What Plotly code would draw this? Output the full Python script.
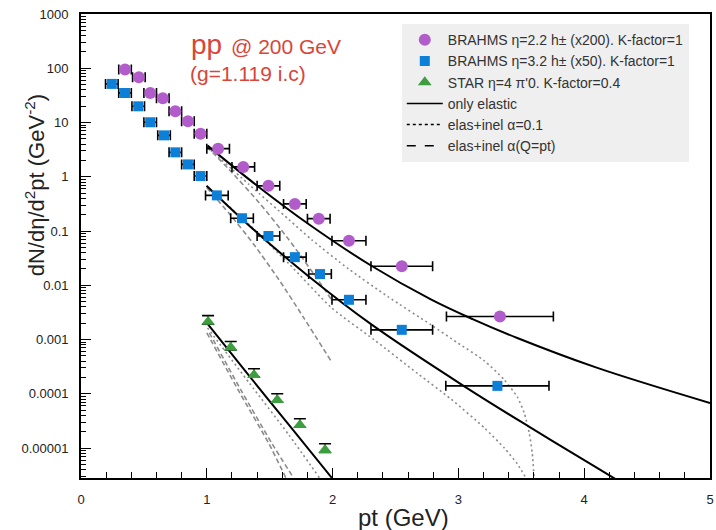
import plotly.graph_objects as go

# ---------------- data ----------------
# BRAHMS eta=2.2 h+- (x200)
c_x = [0.35, 0.46, 0.55, 0.65, 0.75, 0.85, 0.95, 1.09, 1.29, 1.49, 1.70, 1.89, 2.13, 2.55, 3.33]
c_y = [94.6, 68, 35, 28, 16.1, 10.5, 6.2, 3.3, 1.52, 0.68, 0.316, 0.169, 0.066, 0.0224, 0.00266]
c_ex = [0.05, 0.05, 0.05, 0.05, 0.05, 0.05, 0.05, 0.09, 0.09, 0.09, 0.09, 0.09, 0.135, 0.245, 0.425]

# BRAHMS eta=3.2 h+- (x50)
s_x = [0.245, 0.35, 0.455, 0.55, 0.66, 0.75, 0.85, 0.95, 1.08, 1.28, 1.49, 1.70, 1.90, 2.13, 2.55, 3.31]
s_y = [51.5, 35, 19.9, 10.1, 5.8, 2.82, 1.69, 1.03, 0.454, 0.172, 0.081, 0.033, 0.0161, 0.0054, 0.00151, 0.00014]
s_ex = [0.05, 0.05, 0.05, 0.05, 0.05, 0.05, 0.05, 0.05, 0.09, 0.09, 0.09, 0.09, 0.09, 0.135, 0.245, 0.41]

# STAR eta=4 pi0
t_x = [1.01, 1.19, 1.375, 1.56, 1.74, 1.94]
t_y = [0.00212, 0.000711, 0.000223, 7.7e-5, 2.67e-5, 9.2e-6]
t_eup = [0.00064, 0.00021, 0.000067, 2.3e-5, 8.0e-6, 2.8e-6]
t_edn = [0.0002, 0.00007, 0.00002, 7e-6, 2.5e-6, 9e-7]

# model curves: circle group
c_sol_x = [1.006, 1.40, 1.811, 2.308, 2.781, 3.113, 3.468, 4.099, 5.0]
c_sol_y = [3.75, 0.685, 0.1334, 0.0229, 0.0055, 0.00238, 0.001066, 0.000303, 6.76e-5]
c_dot_x = [1.0, 1.337, 1.653, 1.834, 2.126, 2.442, 2.781, 2.994, 3.207, 3.365, 3.468, 3.523, 3.563, 3.587, 3.602]
c_dot_y = [3.59, 0.715, 0.162, 0.069, 0.0201, 0.00613, 0.00187, 0.000869, 0.000404, 0.00018, 8.77e-5, 4.44e-5, 1.9e-5, 8.1e-6, 2.8e-6]
c_das_x = [1.0, 1.179, 1.416, 1.653, 1.866, 1.992]
c_das_y = [3.59, 1.35, 0.333, 0.069, 0.01435, 0.0054]

# model curves: square group
s_sol_x = [0.998, 1.40, 1.811, 2.308, 3.05, 3.571, 4.099, 4.257]
s_sol_y = [0.685, 0.0931, 0.01453, 0.0019, 0.000136, 2.4e-5, 4.35e-6, 2.61e-6]
s_dot_x = [1.0, 1.337, 1.653, 1.992, 2.331, 2.679, 2.939, 3.207, 3.365, 3.468, 3.547]
s_dot_y = [0.656, 0.131, 0.0249, 0.00384, 0.000987, 0.000233, 8.05e-5, 2.35e-5, 1.0e-5, 5.1e-6, 2.58e-6]
s_das_x = [1.0, 1.179, 1.376, 1.574, 1.771, 1.992]
s_das_y = [0.629, 0.2085, 0.0558, 0.01262, 0.00251, 0.000387]

# model curves: triangle group
t_sol_x = [1.0, 1.337, 1.653, 1.995]
t_sol_y = [0.00203, 0.000214, 2.67e-5, 2.8e-6]
t_dot_x = [1.006, 1.337, 1.653, 1.897]
t_dot_y = [0.00164, 0.000159, 1.74e-5, 2.8e-6]
t_das_x = [1.0, 1.258, 1.495, 1.629]
t_das_y = [0.00133, 0.000108, 1.19e-5, 2.8e-6]
t_das2_x = [1.02, 1.28, 1.52, 1.69]
t_das2_y = [0.00133, 0.000108, 1.19e-5, 2.8e-6]

y_tickvals = [1e-5, 1e-4, 1e-3, 1e-2, 1e-1, 1, 10, 100, 1000]
y_ticktext = ["0.00001", "0.0001", "0.001", "0.01", "0.1", "1", "10", "100", "1000"]
x_tickvals = [0, 1, 2, 3, 4, 5]

legend_names = [
    "BRAHMS η=2.2 h± (x200). K-factor=1",
    "BRAHMS η=3.2 h± (x50). K-factor=1",
    "STAR η=4 π'0. K-factor=0.4",
    "only elastic",
    "elas+inel α=0.1",
    "elas+inel α(Q=pt)",
]

PURPLE = "#b25ccb"
BLUE = "#0c7fd9"
GREEN = "#3c9e3f"
GRAY = "#8c8c8c"
FONT = "Liberation Sans, Arial, sans-serif"

fig = go.Figure()

def curve(x, y, style, width, smoothing):
    color = "black" if style == "solid" else GRAY
    dash = {"solid": "solid", "dot": "2px,3px", "dash": "5px,3px"}[style]
    fig.add_trace(go.Scatter(x=x, y=y, mode="lines", showlegend=False, hoverinfo="skip",
                             line=dict(color=color, width=width, dash=dash, shape="spline",
                                       smoothing=smoothing)))

for xs, ys in [(c_dot_x, c_dot_y), (s_dot_x, s_dot_y), (t_dot_x, t_dot_y)]:
    curve(xs, ys, "dot", 1.6, 0.6)
for xs, ys in [(c_das_x, c_das_y), (s_das_x, s_das_y), (t_das_x, t_das_y), (t_das2_x, t_das2_y)]:
    curve(xs, ys, "dash", 1.6, 0.6)
for xs, ys in [(c_sol_x, c_sol_y), (s_sol_x, s_sol_y), (t_sol_x, t_sol_y)]:
    curve(xs, ys, "solid", 2, 1.0)

# legend-only line entries
for rank, dash, name in [(4, "solid", legend_names[3]), (5, "dot", legend_names[4]), (6, "dash", legend_names[5])]:
    fig.add_trace(go.Scatter(x=[None], y=[None], mode="lines", name=name, legendrank=rank,
                             line=dict(color="black", width=1.5, dash=dash)))

errx = dict(type="data", thickness=1.6, width=5, color="black")
fig.add_trace(go.Scatter(x=c_x, y=c_y, mode="markers", name=legend_names[0], legendrank=1,
                         marker=dict(symbol="circle", size=12, color=PURPLE),
                         error_x=dict(array=c_ex, **errx)))
fig.add_trace(go.Scatter(x=s_x, y=s_y, mode="markers", name=legend_names[1], legendrank=2,
                         marker=dict(symbol="square", size=10, color=BLUE),
                         error_x=dict(array=s_ex, **errx)))
fig.add_trace(go.Scatter(x=t_x, y=t_y, mode="markers", name=legend_names[2], legendrank=3,
                         marker=dict(symbol="triangle-up", size=12, color=GREEN),
                         error_y=dict(type="data", symmetric=False, array=t_eup, arrayminus=t_edn,
                                      thickness=1.6, width=6, color="black")))

axis_common = dict(showline=True, linecolor="black", linewidth=1.8, mirror=True, showgrid=False,
                   zeroline=False, ticks="inside", tickcolor="black", tickwidth=1.4, ticklen=10,
                   tickfont=dict(family=FONT, size=13, color="#222"))

fig.update_xaxes(range=[0, 5], tickvals=x_tickvals, ticklabelstandoff=8,
                 minor=dict(dtick=0.2, ticks="inside", ticklen=6, tickwidth=1.2, tickcolor="black"),
                 **axis_common)
minor_y = [m * 10 ** e for e in range(-6, 3) for m in range(2, 10)]
fig.update_yaxes(type="log", range=[-5.552, 3], tickvals=y_tickvals, ticktext=y_ticktext,
                 ticklabelstandoff=8,
                 minor=dict(tickvals=minor_y, ticks="inside", ticklen=5, tickwidth=1.2, tickcolor="black"),
                 **axis_common)

fig.update_layout(
    width=716, height=530,
    margin=dict(l=81, r=2, t=14, b=52),
    plot_bgcolor="white", paper_bgcolor="white",
    font=dict(family=FONT, color="#222"),
    legend=dict(x=0.51, y=0.978, xanchor="left", yanchor="top", bgcolor="#efefef",
                borderwidth=0, font=dict(family=FONT, size=14, color="#333"),
                tracegroupgap=0, itemwidth=36),
    annotations=[
        dict(text="dN/dη/d<sup>2</sup>pt (GeV<sup>-2</sup>)", textangle=-90, xref="paper", yref="paper",
             x=-0.073, y=0.631, xanchor="center", yanchor="middle", showarrow=False,
             font=dict(family=FONT, size=22, color="#222")),
        dict(text="pt (GeV)", xref="paper", yref="paper", x=0.513, y=-0.086,
             xanchor="center", yanchor="middle", showarrow=False,
             font=dict(family=FONT, size=24, color="#222")),
        dict(text="pp", xref="paper", yref="paper", x=(190 - 81) / 633, y=(478 - 45) / 464,
             xanchor="left", yanchor="middle", showarrow=False,
             font=dict(family=FONT, size=28, color="#d9453a")),
        dict(text="@ 200 GeV", xref="paper", yref="paper", x=(230 - 81) / 633, y=(478 - 47) / 464,
             xanchor="left", yanchor="middle", showarrow=False,
             font=dict(family=FONT, size=21, color="#d9453a")),
        dict(text="(g=1.119 i.c)", xref="paper", yref="paper", x=(189 - 81) / 633, y=(478 - 73) / 464,
             xanchor="left", yanchor="middle", showarrow=False,
             font=dict(family=FONT, size=21, color="#d9453a")),
    ],
)

fig.write_html("out.html")
